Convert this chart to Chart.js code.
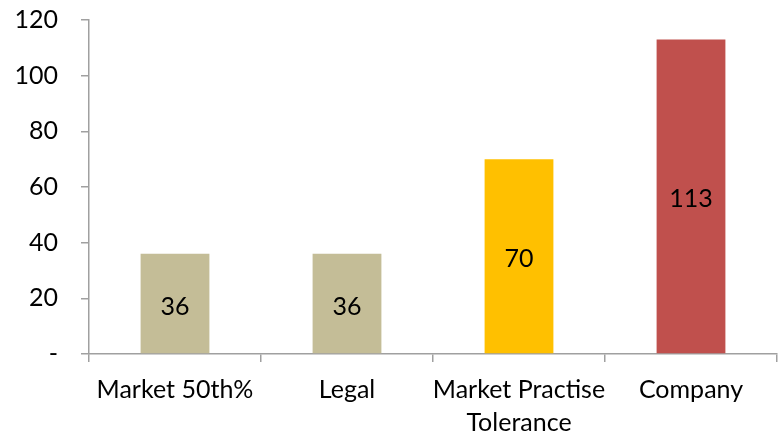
<!DOCTYPE html>
<html><head><meta charset="utf-8">
<script src="https://cdn.jsdelivr.net/npm/chart.js@4/dist/chart.umd.min.js"></script>
<style>html,body{margin:0;padding:0;background:#fff}#wrap{width:779px;height:431px}</style>
</head><body><div id="wrap"><canvas id="c"></canvas></div>
<script>
const categories = [["Market 50th%"], ["Legal"], ["Market Practise", "Tolerance"], ["Company"]];
const values = [36, 36, 70, 113];
const barColors = ["#C4BD97", "#C4BD97", "#FFC000", "#C0504D"];
const yTicks = [0, 20, 40, 60, 80, 100, 120];

const FONT = "Lato, 'Open Sans', sans-serif";
const FS = 25;

const labelPlugin = {
  id: 'inlabels',
  afterDatasetsDraw(chart) {
    const ctx = chart.ctx;
    const meta = chart.getDatasetMeta(0);
    ctx.save();
    ctx.font = FS + "px " + FONT;
    ctx.fillStyle = "#000";
    ctx.textAlign = "center";
    ctx.textBaseline = "middle";
    meta.data.forEach((bar, i) => {
      const y = (bar.y + bar.base) / 2;
      ctx.fillText(String(values[i]), bar.x, y + 3);
    });
    ctx.restore();
  }
};

new Chart(document.getElementById('c'), {
  type: 'bar',
  data: {
    labels: categories,
    datasets: [{ data: values, backgroundColor: barColors, barPercentage: 0.4, categoryPercentage: 1.0 }]
  },
  options: {
    responsive: true, maintainAspectRatio: false, animation: false,
    layout: { padding: { top: 20, right: 2, left: 0, bottom: 0 } },
    plugins: { legend: { display: false }, tooltip: { enabled: false } },
    scales: {
      x: {
        offset: true,
        grid: { display: true, offset: true, drawOnChartArea: false, drawTicks: true, tickLength: 8, color: "#A0A0A0", lineWidth: 1.5 },
        border: { color: "#A0A0A0", width: 1.5 },
        ticks: { color: "#000", font: { family: FONT, size: FS, lineHeight: 1.32 }, padding: 11, maxRotation: 0, autoSkip: false },
        afterFit(s) { s.height = 77; s.paddingLeft = 0; s.paddingRight = 0; s.paddingTop = 0; s.paddingBottom = 0; }
      },
      y: {
        min: 0, max: 120,
        afterBuildTicks(s) { s.ticks = yTicks.map(v => ({ value: v })); },
        grid: { display: true, drawOnChartArea: false, drawTicks: true, tickLength: 8, color: "#A0A0A0", lineWidth: 1.5 },
        border: { color: "#A0A0A0", width: 1.5 },
        ticks: { color: "#000", font: { family: FONT, size: FS }, padding: 23, callback: v => v === 0 ? "-" : String(v) },
        afterFit(s) { s.width = 89; s.paddingTop = 0; s.paddingBottom = 0; }
      }
    }
  },
  plugins: [labelPlugin]
});
</script></body></html>
